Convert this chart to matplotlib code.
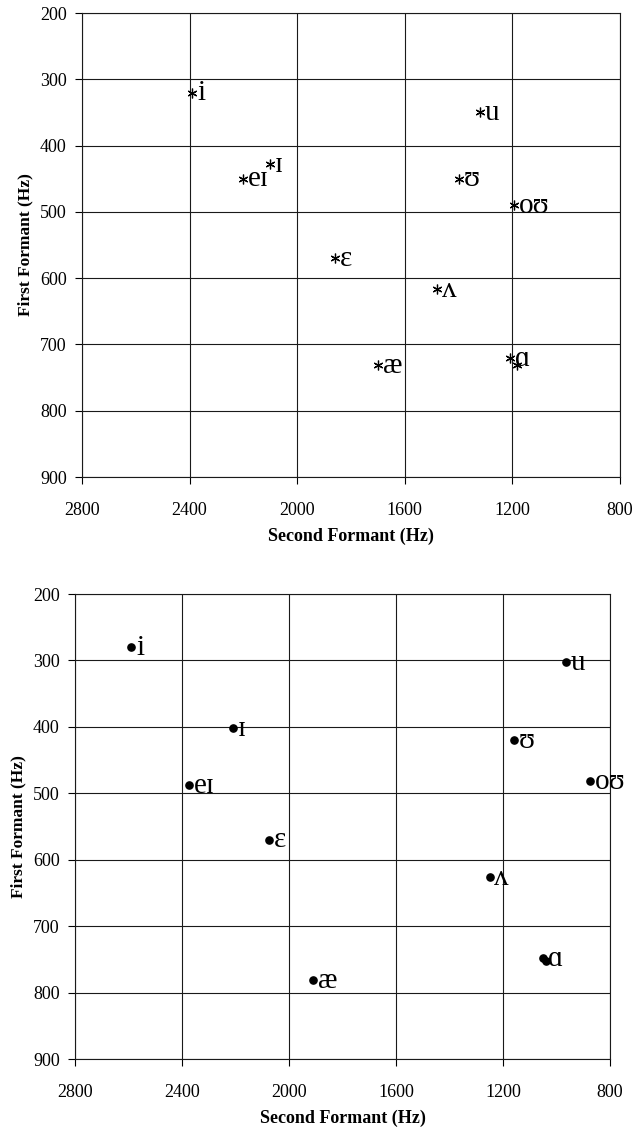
import matplotlib
matplotlib.use("Agg")
import matplotlib.pyplot as plt

plt.rcParams['font.family'] = ['Liberation Serif', 'DejaVu Serif']

# ---- data: top chart (asterisk markers) ----
top_labels = ['i', 'ɪ', 'eɪ', 'ɛ', 'æ', 'ɑ', '', 'ʌ', 'ʊ', 'u', 'oʊ']
top_f2 = [2390, 2100, 2200, 1860, 1700, 1210, 1182, 1480, 1400, 1320, 1195]
top_f1 = [320, 428, 450, 570, 731, 721, 731, 617, 450, 350, 490]

# ---- data: bottom chart (dot markers) ----
bot_labels = ['i', 'ɪ', 'eɪ', 'ɛ', 'æ', 'ɑ', '', 'ʌ', 'ʊ', 'u', 'oʊ']
bot_f2 = [2590, 2210, 2375, 2075, 1910, 1050, 1040, 1250, 1160, 965, 875]
bot_f1 = [280, 402, 488, 570, 781, 748, 752, 626, 420, 303, 482]

x_ticks = [2800, 2400, 2000, 1600, 1200, 800]
y_ticks = [200, 300, 400, 500, 600, 700, 800, 900]
x_label = 'Second Formant (Hz)'
y_label = 'First Formant (Hz)'

W, H = 633, 1130
fig = plt.figure(figsize=(W / 100, H / 100), dpi=100)


def make_axes(l, r, t, b):
    return fig.add_axes([l / W, 1 - b / H, (r - l) / W, (b - t) / H])


ax_top = make_axes(82, 620, 13, 477)
ax_bot = make_axes(75, 610, 594, 1059)


def style(ax):
    ax.set_xlim(2800, 800)
    ax.set_ylim(900, 200)
    ax.set_xticks(x_ticks)
    ax.set_yticks(y_ticks)
    ax.grid(True, color='#1a1a1a', lw=0.8)
    ax.set_axisbelow(True)
    for s in ax.spines.values():
        s.set_color('#1a1a1a')
        s.set_linewidth(0.8)
    ax.tick_params(axis='both', direction='out', length=5, width=0.8,
                   labelsize=13, colors='black')
    ax.tick_params(axis='x', pad=13)
    ax.tick_params(axis='y', pad=6)
    ax.set_xlabel(x_label, fontsize=13, fontweight='bold', labelpad=6)
    ax.set_ylabel(y_label, fontsize=12.5, fontweight='bold', labelpad=5)


style(ax_top)
style(ax_bot)

ax_top.plot(top_f2, top_f1, linestyle='none', marker=(6, 2, 0),
            markersize=7, markeredgewidth=0.9, color='black')
for lab, x, y in zip(top_labels, top_f2, top_f1):
    if lab:
        ax_top.annotate(lab, (x, y), xytext=(3.5, -0.5), textcoords='offset points',
                        ha='left', va='center', fontsize=21, color='black')

ax_bot.plot(bot_f2, bot_f1, linestyle='none', marker='o',
            markersize=5.2, color='black')
for lab, x, y in zip(bot_labels, bot_f2, bot_f1):
    if lab:
        ax_bot.annotate(lab, (x, y), xytext=(3.5, -0.5), textcoords='offset points',
                        ha='left', va='center', fontsize=21, color='black')

fig.savefig('out.png', dpi=100)
